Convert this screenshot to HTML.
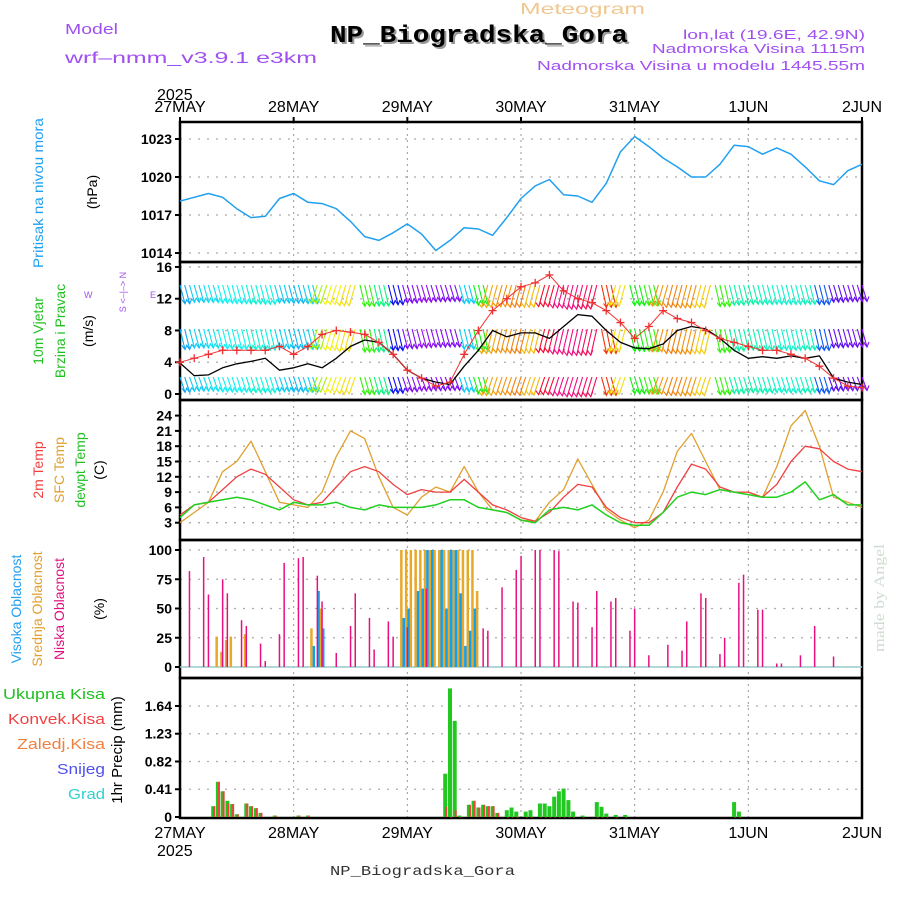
<!DOCTYPE html>
<html><head><meta charset="utf-8"><style>
html,body{margin:0;padding:0;background:#fff;}
svg{display:block;font-family:"Liberation Sans",sans-serif;}
</style></head><body>
<svg id="chart" width="900" height="900" viewBox="0 0 900 900" xmlns="http://www.w3.org/2000/svg">
<text x="65" y="34" font-size="15" fill="#a050f0" textLength="53" lengthAdjust="spacingAndGlyphs">Model</text>
<text x="65" y="63" font-size="16" fill="#a050f0" textLength="252" lengthAdjust="spacingAndGlyphs">wrf–nmm_v3.9.1  e3km</text>
<text x="520" y="14" font-size="16" fill="#f0c890" textLength="125" lengthAdjust="spacingAndGlyphs">Meteogram</text>
<text x="332" y="44" font-size="24" font-weight="bold" font-family="Liberation Mono,monospace" fill="#999" textLength="298" lengthAdjust="spacingAndGlyphs">NP_Biogradska_Gora</text>
<text x="330" y="42" font-size="24" font-weight="bold" font-family="Liberation Mono,monospace" fill="#000" textLength="298" lengthAdjust="spacingAndGlyphs">NP_Biogradska_Gora</text>
<text x="683" y="39" font-size="13" fill="#a050f0" textLength="182" lengthAdjust="spacingAndGlyphs">lon,lat (19.6E, 42.9N)</text>
<text x="652" y="53" font-size="13" fill="#a050f0" textLength="213" lengthAdjust="spacingAndGlyphs">Nadmorska Visina 1115m</text>
<text x="537" y="70" font-size="13" fill="#a050f0" textLength="328" lengthAdjust="spacingAndGlyphs">Nadmorska Visina u modelu 1445.55m</text>
<text x="157" y="100" font-size="16" fill="#000">2025</text>
<text x="157" y="856" font-size="16" fill="#000">2025</text>
<text x="330" y="875" font-size="14" fill="#333" font-family="Liberation Mono,monospace" textLength="185" lengthAdjust="spacingAndGlyphs">NP_Biogradska_Gora</text>
<text transform="translate(884,652) rotate(-90)" font-size="15" fill="#d0dcd0" font-family="Liberation Serif,serif" textLength="108" lengthAdjust="spacingAndGlyphs">made by Angel</text>

<text transform="translate(43,268) rotate(-90)" font-size="14" fill="#20a0f0" textLength="150" lengthAdjust="spacingAndGlyphs">Pritisak na nivou mora</text>
<text transform="translate(97,192) rotate(-90)" font-size="14" fill="#000" text-anchor="middle">(hPa)</text>
<text transform="translate(43,331) rotate(-90)" font-size="14" fill="#20c020" text-anchor="middle">10m Vjetar</text>
<text transform="translate(65,331) rotate(-90)" font-size="14" fill="#20c020" text-anchor="middle">Brzina i Pravac</text>
<text transform="translate(93,331) rotate(-90)" font-size="14" fill="#000" text-anchor="middle">(m/s)</text>
<text transform="translate(126,292) rotate(-90)" font-size="9" fill="#a050f0" text-anchor="middle">S &lt;–|–&gt; N</text>
<text x="84" y="298" font-size="9" fill="#a050f0">W</text>
<text x="150" y="298" font-size="9" fill="#a050f0">E</text>
<text transform="translate(43,470) rotate(-90)" font-size="14" fill="#f04040" text-anchor="middle">2m Temp</text>
<text transform="translate(64,470) rotate(-90)" font-size="14" fill="#e0a030" text-anchor="middle">SFC Temp</text>
<text transform="translate(85,470) rotate(-90)" font-size="14" fill="#20c020" text-anchor="middle">dewpt Temp</text>
<text transform="translate(104,470) rotate(-90)" font-size="14" fill="#000" text-anchor="middle">(C)</text>
<text transform="translate(21,609) rotate(-90)" font-size="14" fill="#20a0f0" text-anchor="middle">Visoka Oblacnost</text>
<text transform="translate(42,609) rotate(-90)" font-size="14" fill="#e0a030" text-anchor="middle">Srednja Oblacnost</text>
<text transform="translate(64,609) rotate(-90)" font-size="14" fill="#e0107f" text-anchor="middle">Niska Oblacnost</text>
<text transform="translate(104,609) rotate(-90)" font-size="14" fill="#000" text-anchor="middle">(%)</text>
<text x="3" y="699" font-size="15" fill="#20c020" textLength="102" lengthAdjust="spacingAndGlyphs">Ukupna  Kisa</text>
<text x="8" y="724" font-size="15" fill="#f04040" textLength="97" lengthAdjust="spacingAndGlyphs">Konvek.Kisa</text>
<text x="17" y="749" font-size="15" fill="#f08040" textLength="88" lengthAdjust="spacingAndGlyphs">Zaledj.Kisa</text>
<text x="57" y="774" font-size="15" fill="#5050f0" textLength="48" lengthAdjust="spacingAndGlyphs">Snijeg</text>
<text x="68" y="799" font-size="15" fill="#30d0d0" textLength="37" lengthAdjust="spacingAndGlyphs">Grad</text>
<text transform="translate(122,750) rotate(-90)" font-size="15" fill="#000" text-anchor="middle">1hr Precip (mm)</text>
<g id="plots"></g>
</svg>
<script>
// ---- data (3-hourly, hours 0..144) ----
const hours3 = [0,3,6,9,12,15,18,21,24,27,30,33,36,39,42,45,48,51,54,57,60,63,66,69,72,75,78,81,84,87,90,93,96,99,102,105,108,111,114,117,120,123,126,129,132,135,138,141,144];
const dayLabels = ["27MAY","28MAY","29MAY","30MAY","31MAY","1JUN","2JUN"];
const pressure = [1018.1,1018.4,1018.7,1018.4,1017.5,1016.8,1016.9,1018.3,1018.7,1018.0,1017.9,1017.5,1016.5,1015.3,1015.0,1015.6,1016.3,1015.5,1014.2,1015.0,1016.0,1015.9,1015.4,1016.8,1018.3,1019.3,1019.8,1018.6,1018.5,1018.0,1019.5,1022.0,1023.2,1022.4,1021.5,1020.8,1020.0,1020.0,1021.0,1022.5,1022.4,1021.8,1022.3,1021.8,1020.8,1019.7,1019.4,1020.5,1021.0];
const pressureTicks = [1014,1017,1020,1023];
const windSpeed = [3.9,2.3,2.4,3.3,3.8,4.1,4.5,3.0,3.3,3.8,3.3,4.5,6.0,6.8,6.5,5.0,3.0,2.0,1.5,1.2,3.5,5.5,8.0,7.2,7.7,7.7,7.0,8.5,10.0,9.8,8.0,6.5,5.8,5.7,6.3,8.0,8.5,8.2,7.0,5.5,4.5,4.7,4.5,4.8,4.5,4.8,2.0,1.5,1.2];
const windGust = [4.0,4.5,5.0,5.5,5.5,5.5,5.5,6.0,5.0,6.0,7.5,8.0,7.8,7.5,6.5,5.0,3.0,2.0,1.0,1.5,5.0,8.0,10.5,12.0,13.5,14.0,15.0,13.0,12.0,11.5,10.5,9.0,7.0,8.5,10.5,9.5,9.0,8.0,7.0,6.5,6.0,5.5,5.5,5.0,4.5,3.5,2.0,1.0,0.8];
const windDirHue = [200,190,185,180,180,170,175,190,195,190,80,60,55,110,150,240,270,275,270,270,190,120,40,35,30,45,350,330,330,340,10,55,120,110,35,30,35,50,110,160,160,165,170,170,165,220,260,265,270];
const windTicks = [0,4,8,12,16];
const temp2m = [4.5,6.5,7.0,9.5,12.0,13.5,12.5,10.0,7.5,6.5,7.0,10.0,13.0,14.0,13.0,10.5,8.5,9.5,9.0,9.0,11.5,9.0,6.5,5.5,4.0,3.3,5.0,8.0,10.5,10.0,6.0,4.0,3.0,3.0,5.0,10.0,14.5,13.5,10.0,9.0,9.0,8.0,10.5,15.0,18.0,17.5,15.0,13.5,13.0];
const tempSfc = [3.0,5.0,7.0,13.0,15.0,19.0,13.0,7.0,6.5,6.0,9.0,16.0,21.0,19.5,12.0,6.0,4.5,8.0,10.0,9.0,14.0,9.0,5.5,5.0,3.5,3.3,7.0,9.5,15.5,10.5,5.5,3.5,2.0,3.5,9.0,17.0,20.5,15.0,9.5,9.0,9.0,8.0,14.0,22.0,25.0,18.0,8.0,7.0,6.0];
const tempDew = [4.0,6.5,7.0,7.5,8.0,7.5,6.5,5.5,7.0,6.5,6.5,7.0,6.0,5.5,6.5,6.0,6.0,6.0,6.5,7.5,7.5,6.0,5.5,5.0,3.5,3.0,5.5,6.0,5.5,6.5,4.5,3.0,2.5,2.5,5.0,8.0,9.0,8.5,9.5,9.0,8.5,8.0,8.0,9.0,11.0,7.5,8.5,6.5,6.5];
const tempTicks = [3,6,9,12,15,18,21,24];
const lowCloudHours = [2,5,6,9,10,13,14,17,18,21,22,25,26,29,30,33,36,37,40,41,44,45,48,52,64,65,68,71,72,75,76,79,80,83,84,87,88,91,92,95,96,99,103,106,107,110,111,114,115,118,119,122,123,126,127,131,134,138];
const lowCloud = [82,94,62,75,63,40,35,20,5,28,89,93,94,78,56,12,35,63,42,15,39,26,34,67,33,31,68,83,95,100,100,100,99,56,55,34,65,56,59,31,50,10,19,14,39,63,59,11,25,72,79,49,49,3,3,10,35,9];
const midCloudHours = [8,9,10,11,14,28,30,47,48,49,50,51,52,53,54,55,56,57,58,59,60,61,62,63];
const midCloud = [26,13,23,26,28,33,50,100,100,100,100,100,100,100,100,100,100,100,100,100,100,100,100,65];
const highCloudHours = [28,29,30,47,48,50,51,52,53,55,56,57,58,59,60,61,62];
const highCloud = [18,65,33,42,50,65,67,100,100,100,50,100,100,63,18,31,50];
const cloudTicks = [0,25,50,75,100];
const precipHours = [7,8,9,10,11,12,14,15,16,17,20,25,27,56,57,58,59,61,62,63,64,65,66,67,69,70,71,73,74,76,77,78,79,80,81,82,83,85,88,89,90,92,94,117,118];
const precipTotal = [.16,.52,.38,.24,.19,.04,.2,.16,.13,.06,.02,.02,.02,.64,1.9,1.42,.02,.18,.24,.14,.18,.16,.16,.06,.1,.14,.08,.08,.1,.2,.2,.16,.3,.38,.42,.25,.08,.02,.22,.15,.05,.03,.03,.22,.08];
const precipConv = [.16,.52,.38,.2,.19,.04,.2,.16,.13,.06,.02,.02,.02,.15,0,.1,0,.18,.24,.14,.18,.16,.16,.06,0,0,0,0,0,0,0,0,0,0,0,0,0,0,0,0,0,0,0,0,0];
const precipTicks = [0,0.41,0.82,1.23,1.64];

// ---- axes ----
const X0=180, X1=862;
const X = h => X0 + h*(X1-X0)/144;
const P = [{t:122,b:262},{t:262,b:400},{t:400,b:540},{t:540,b:678},{t:678,b:818}];
const yP = v => 139 + (1023-v)*12.67;
const yW = v => 394 - v*7.94;
const yT = v => 538 - v*5.1;
const yC = v => 667 - v*1.17;
const yR = v => 817 - v*67.7;

const NS="http://www.w3.org/2000/svg";
const root=document.getElementById('plots');
function mk(tag,attrs,parent){const e=document.createElementNS(NS,tag);for(const k in attrs)e.setAttribute(k,attrs[k]);(parent||root).appendChild(e);return e;}

const tickSets=[[pressureTicks,yP],[windTicks,yW],[tempTicks,yT],[cloudTicks,yC],[precipTicks,yR]];
P.forEach((p,i)=>{
  const g=mk('g',{});
  
  
  for(let d=1;d<6;d++){const l=mk('line',{x1:X(d*24),x2:X(d*24),y1:p.t,y2:p.b,stroke:'#999','stroke-dasharray':'2,4','stroke-width':1},g);
    }
  const [ticks,fy]=tickSets[i];
  ticks.forEach(v=>{const y=fy(v);
    if(y>p.t+2&&y<p.b-2){const l=mk('line',{x1:X0,x2:X1,y1:y,y2:y,stroke:'#aaa','stroke-dasharray':'2,7','stroke-width':1.3},g);
      }
    mk('line',{x1:X0-5,x2:X0,y1:y,y2:y,stroke:'#000','stroke-width':2},g);
    const t=mk('text',{x:X0-8,y:y+5,'font-size':14,'text-anchor':'end',fill:'#000','font-weight':'bold'},g);
    t.textContent=String(v);
    
  });
  const r=mk('rect',{x:X0,y:p.t,width:X1-X0,height:p.b-p.t,fill:'none',stroke:'#000','stroke-width':2.5},g);
  
});
dayLabels.forEach((d,i)=>{
  [[112,'top'],[838,'bottom']].forEach(([y,s])=>{
    const t=mk('text',{x:X(i*24),y:y,'font-size':16,'text-anchor':'middle',fill:'#000'});
    t.textContent=d;
    
  });
  mk('line',{x1:X(i*24),x2:X(i*24),y1:P[0].t-5,y2:P[0].t,stroke:'#000','stroke-width':2});
});

function line(vals,fy,color,name,w){
  const pts=hours3.map((h,i)=>X(h).toFixed(1)+','+fy(vals[i]).toFixed(1)).join(' ');
  const l=mk('polyline',{points:pts,fill:'none',stroke:color,'stroke-width':w||1.3,'stroke-linejoin':'round'});
  
}
line(pressure,yP,'#20a0f0','pressure-line',1.5);

const windLevels=[{y:285,L:22},{y:329,L:24},{y:377,L:18}];
for(let h=0;h<=144;h++){
  const idx=Math.min(48,Math.round(h/3));
  const hue=windDirHue[idx];
  const col='hsl('+hue+',90%,50%)';
  const slant=(hue>=20&&hue<=100)||hue>=300?-6:5;
  windLevels.forEach(lv=>{
    const sp=windSpeed[idx];
    const L=lv.L*(0.7+sp/25);
    const x=X(h);
    const x2=x+slant, y2=lv.y+Math.min(L,lv.L+4);
    const b=mk('path',{d:'M'+x.toFixed(1)+','+lv.y+' L'+x2.toFixed(1)+','+y2.toFixed(1)+' M'+(x2-3).toFixed(1)+','+(y2-4).toFixed(1)+' L'+x2.toFixed(1)+','+y2.toFixed(1)+' L'+(x2+2).toFixed(1)+','+(y2-5).toFixed(1),stroke:col,fill:'none','stroke-width':1.1});
    
    
  });
}
line(windSpeed,yW,'#000','wind-speed-line',1.3);
line(windGust,yW,'#f03030','wind-gust-line',1);
hours3.forEach((h,i)=>{const x=X(h),y=yW(windGust[i]);
  const m=mk('path',{d:`M${x-4},${y}h8M${x},${y-4}v8`,stroke:'#f03030','stroke-width':1.3});
  });

line(tempSfc,yT,'#e0a030','sfc-temp-line',1.3);
line(temp2m,yT,'#f04040','temp-2m-line',1.3);
line(tempDew,yT,'#20d020','dewpt-line',1.5);

mk('line',{x1:X0,x2:X1,y1:yC(0),y2:yC(0),stroke:'#9cc','stroke-width':1.5});
function bars(hs,vals,fy,color,dx,w,name){
  hs.forEach((h,i)=>{const y=fy(vals[i]),y0=fy(0);
    const r=mk('rect',{x:(X(h)+dx-w/2).toFixed(1),y:y.toFixed(1),width:w,height:Math.max(0.5,y0-y).toFixed(1),fill:color});
    });
}
bars(midCloudHours,midCloud,yC,'#e8a828',-1.2,2.5,'mid-cloud-bar');
bars(highCloudHours,highCloud,yC,'#10a0f0',1.2,2.5,'high-cloud-bar');
bars(lowCloudHours,lowCloud,yC,'#e8107f',0,1.5,'low-cloud-bar');

bars(precipHours,precipTotal,yR,'#20c820',0,4,'precip-total-bar');
bars(precipHours,precipConv,yR,'#f04040',1,2,'precip-conv-bar');
</script>
</body></html>
